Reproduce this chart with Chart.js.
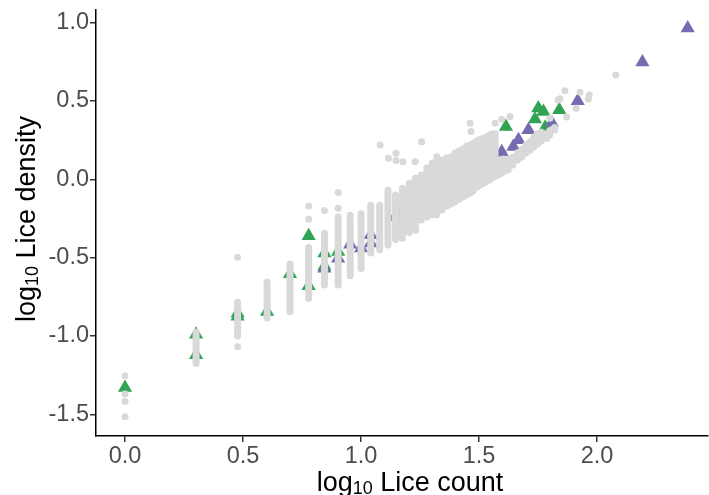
<!DOCTYPE html>
<html>
<head>
<meta charset="utf-8">
<script src="https://cdn.jsdelivr.net/npm/chart.js@4.4.1/dist/chart.umd.min.js"></script>
<style>
  html, body { margin: 0; padding: 0; background: #fff; }
</style>
</head>
<body>
<canvas id="myChart" width="709" height="495"></canvas>
<script>
"use strict";

// gray background counts: runs of overlapping dots in one column (same count, many densities)
const colX  = [0.301, 0.477, 0.602, 0.699, 0.778, 0.845, 0.903, 0.954, 1.000, 1.041, 1.079, 1.114, 1.146, 1.176, 1.204, 1.230, 1.255, 1.279, 1.301, 1.322, 1.342, 1.362, 1.380, 1.398, 1.415, 1.431, 1.447, 1.462, 1.477, 1.491, 1.505, 1.519, 1.531, 1.544, 1.556, 1.568, 1.580, 1.591, 1.602, 1.623, 1.643, 1.663, 1.681, 1.699, 1.716, 1.732, 1.748, 1.763, 1.778, 1.799, 1.820];
const colLo = [-1.175, -1.000, -0.885, -0.845, -0.760, -0.675, -0.675, -0.615, -0.570, -0.470, -0.450, -0.420, -0.385, -0.350, -0.340, -0.300, -0.260, -0.240, -0.228, -0.209, -0.196, -0.170, -0.158, -0.145, -0.127, -0.113, -0.100, -0.087, -0.068, -0.050, -0.036, -0.025, -0.015, -0.004, 0.008, 0.018, 0.027, 0.037, 0.047, 0.059, 0.091, 0.123, 0.142, 0.168, 0.187, 0.206, 0.225, 0.244, 0.264, 0.283, 0.315];
const colHi = [-0.975, -0.785, -0.655, -0.540, -0.435, -0.345, -0.240, -0.230, -0.220, -0.165, -0.165, -0.070, -0.100, -0.057, -0.026, 0.006, 0.027, 0.072, 0.104, 0.117, 0.123, 0.136, 0.142, 0.168, 0.180, 0.193, 0.212, 0.219, 0.232, 0.245, 0.256, 0.262, 0.270, 0.283, 0.290, 0.290, 0.125, 0.125, 0.130, 0.130, 0.140, 0.170, 0.190, 0.220, 0.240, 0.270, 0.290, 0.300, 0.290, 0.310, 0.330];

// single gray dots
const dotX = [0, 0, 0, 0, 0.477, 0.477, 0.778, 0.778, 0.845, 0.903, 0.903, 1.081, 1.116, 1.148, 1.148, 1.177, 1.229, 1.257, 1.321, 1.462, 1.466, 1.568, 1.596, 1.631, 1.320, 1.232, 1.175, 1.787, 1.800, 1.871, 1.835, 1.843, 1.864, 1.911, 1.928, 1.963, 1.967, 2.079];
const dotY = [-1.255, -1.370, -1.418, -1.515, -0.498, -1.068, -0.170, -0.255, -0.200, -0.085, -0.185, 0.219, 0.134, 0.166, 0.119, 0.112, 0.112, 0.240, 0.144, 0.357, 0.304, 0.357, 0.383, 0.400, -0.227, -0.325, -0.377, 0.262, 0.390, 0.398, 0.506, 0.514, 0.564, 0.453, 0.555, 0.510, 0.538, 0.666];

// green triangles
const greenX = [0, 0.301, 0.301, 0.477, 0.477, 0.602, 0.699, 0.778, 0.778, 0.845, 0.845, 0.903, 1.146, 1.447, 1.452, 1.518, 1.462, 1.614, 1.737, 1.751, 1.773, 1.780, 1.840];
const greenY = [-1.330, -0.990, -1.120, -0.855, -0.875, -0.845, -0.604, -0.362, -0.680, -0.472, -0.555, -0.462, -0.235, 0.105, -0.068, 0.045, 0.070, 0.336, 0.383, 0.453, 0.431, 0.330, 0.442];

// purple triangles
const purpleX = [0.845, 0.903, 0.954, 1.000, 1.041, 1.041, 1.146, 1.179, 1.158, 1.292, 1.483, 1.554, 1.564, 1.596, 1.645, 1.667, 1.709, 1.808, 1.918, 2.192, 2.384];
const purpleY = [-0.568, -0.505, -0.415, -0.440, -0.408, -0.355, -0.240, -0.250, -0.217, -0.170, 0.017, 0.112, 0.163, 0.175, 0.208, 0.251, 0.315, 0.361, 0.500, 0.747, 0.964];

const xTicks = [0, 0.5, 1.0, 1.5, 2.0];
const yTicks = [-1.5, -1.0, -0.5, 0.0, 0.5, 1.0];

const GRAY = "#d9d9d9";
const GREEN = "#31a354";
const PURPLE = "#756bb1";
const FONT = "'Liberation Sans', Arial, sans-serif";

function pairs(xs, ys) {
	let out = [];
	for (let i = 0; i < xs.length; i++) out.push({x: xs[i], y: ys[i]});
	return out;
}

// each column becomes its own short line piece, split by a null point
function columnPieces() {
	let out = [];
	for (let i = 0; i < colX.length; i++) {
		out.push({x: colX[i], y: colLo[i]});
		out.push({x: colX[i], y: colHi[i]});
		out.push({x: colX[i], y: null});
	}
	return out;
}

function drawLogTitle(ctx, rest, cx, cy, rot) {
	let big = "27px " + FONT;
	let small = "18px " + FONT;
	ctx.save();
	ctx.translate(cx, cy);
	ctx.rotate(rot);
	ctx.font = big;
	let w1 = ctx.measureText("log").width;
	let w3 = ctx.measureText(" " + rest).width;
	ctx.font = small;
	let w2 = ctx.measureText("10").width;
	let x = -(w1 + w2 + w3) / 2;
	ctx.fillStyle = "#000";
	ctx.textBaseline = "alphabetic";
	ctx.font = big;
	ctx.fillText("log", x, 9.5);
	x += w1;
	ctx.font = small;
	ctx.fillText("10", x, 13);
	x += w2;
	ctx.font = big;
	ctx.fillText(" " + rest, x, 9.5);
	ctx.restore();
}

const axisTitles = {
	id: "axisTitles",
	afterDraw(chart) {
		let a = chart.chartArea;
		drawLogTitle(chart.ctx, "Lice count", (a.left + a.right) / 2 + 8, 481, 0);
		drawLogTitle(chart.ctx, "Lice density", 25, (a.top + a.bottom) / 2 - 4, -Math.PI / 2);
	}
};

function fixScale(size, key) {
	return function (scale) {
		scale[key] = size;
		scale.paddingTop = 0;
		scale.paddingBottom = 0;
		scale.paddingLeft = 0;
		scale.paddingRight = 0;
	};
}

let myChart = new Chart(document.getElementById("myChart"), {
	type: "scatter",
	data: {
		datasets: [
			{
				data: columnPieces(),
				showLine: true,
				spanGaps: false,
				pointRadius: 0,
				borderColor: GRAY,
				borderWidth: 7,
				borderCapStyle: "round",
				borderJoinStyle: "round"
			},
			{
				data: pairs(dotX, dotY),
				pointRadius: 3.5,
				backgroundColor: GRAY,
				borderWidth: 0
			},
			{
				data: pairs(purpleX, purpleY),
				pointStyle: "triangle",
				pointRadius: 8.2,
				backgroundColor: PURPLE,
				borderWidth: 0
			},
			{
				data: pairs(greenX, greenY),
				pointStyle: "triangle",
				pointRadius: 8.2,
				backgroundColor: GREEN,
				borderWidth: 0
			}
		]
	},
	options: {
		responsive: false,
		animation: false,
		events: [],
		layout: { autoPadding: false, padding: { top: 10, right: 1, left: 0, bottom: 0 } },
		plugins: { legend: { display: false }, tooltip: { enabled: false } },
		scales: {
			x: {
				type: "linear",
				min: -0.123,
				max: 2.47,
				afterBuildTicks: function (s) { s.ticks = xTicks.map(v => ({value: v})); },
				afterFit: fixScale(59, "height"),
				grid: { drawOnChartArea: false, drawTicks: true, tickLength: 6, color: "#333333", lineWidth: 1.5 },
				border: { display: true, color: "#000000", width: 1.5 },
				ticks: {
					padding: 0,
					color: "#4d4d4d",
					font: { family: FONT, size: 23.5 },
					callback: v => v.toFixed(1)
				}
			},
			y: {
				type: "linear",
				min: -1.638,
				max: 1.08,
				afterBuildTicks: function (s) { s.ticks = yTicks.map(v => ({value: v})); },
				afterFit: fixScale(96, "width"),
				grid: { drawOnChartArea: false, drawTicks: true, tickLength: 6, color: "#333333", lineWidth: 1.5 },
				border: { display: true, color: "#000000", width: 1.5 },
				ticks: {
					padding: 1,
					color: "#4d4d4d",
					font: { family: FONT, size: 23.5 },
					callback: v => v.toFixed(1)
				}
			}
		}
	},
	plugins: [axisTitles]
});
</script>
</body>
</html>
